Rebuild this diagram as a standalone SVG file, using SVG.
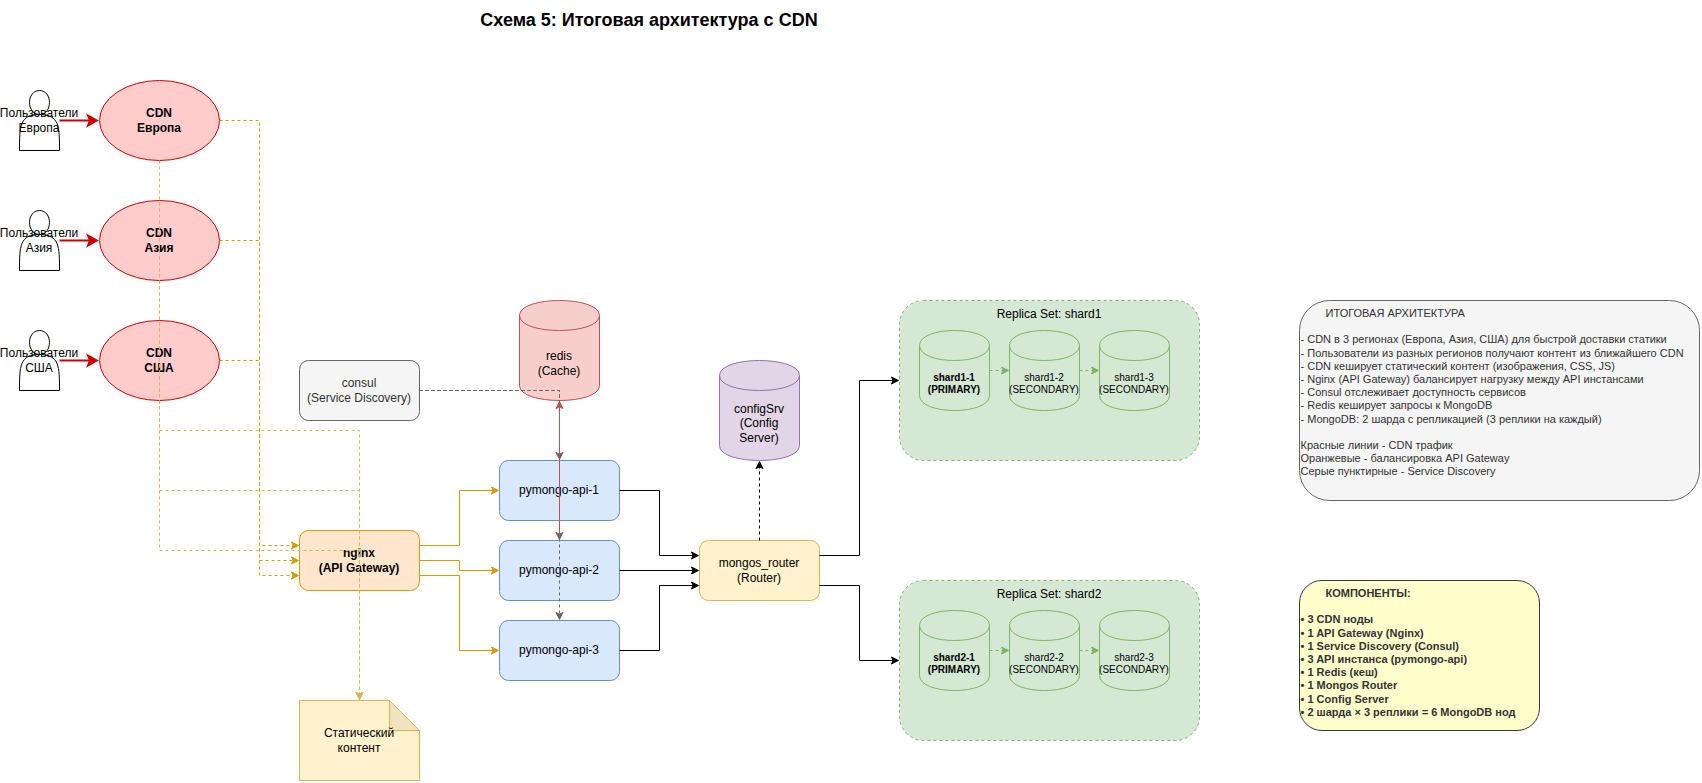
<svg xmlns="http://www.w3.org/2000/svg" width="1702" height="783" viewBox="0 0 1702 783">
<style>
text{font-family:"Liberation Sans",Arial,"DejaVu Sans",sans-serif;font-size:12px;fill:#000;text-anchor:middle}
.b{font-weight:bold}
.s{font-size:10px}
.i{font-size:11px;text-anchor:start;fill:#333}
.t{font-size:18px;font-weight:bold}
.d{fill:#333}
.actor{fill:#fff;stroke:#000}
.cdn{fill:#ffcccc;stroke:#cc0000}
.api{fill:#dae8fc;stroke:#6c8ebf}
.set{fill:#d5e8d4;stroke:#82b366;stroke-dasharray:3 3}
.db{fill:#d5e8d4;stroke:#82b366}
.e{fill:none}
.dash{stroke-dasharray:3 3}
.or{stroke:#d79b00}
.ye{stroke:#d6b656}
.gr{stroke:#666}
.re{stroke:#b85450}
.bk{stroke:#000}
.gn{stroke:#82b366}
.cd{stroke:#cc0000;stroke-width:2}
</style>
<defs>
<path id="head" d="M0,-3.5L7,0L0,3.5L1.75,0Z"/>
<marker id="aor" markerUnits="userSpaceOnUse" markerWidth="12" markerHeight="12" viewBox="-1 -6 10 12" refX="1.75" refY="0" orient="auto"><use href="#head" fill="#d79b00" stroke="#d79b00"/></marker>
<marker id="aye" markerUnits="userSpaceOnUse" markerWidth="12" markerHeight="12" viewBox="-1 -6 10 12" refX="1.75" refY="0" orient="auto"><use href="#head" fill="#d6b656" stroke="#d6b656"/></marker>
<marker id="agr" markerUnits="userSpaceOnUse" markerWidth="12" markerHeight="12" viewBox="-1 -6 10 12" refX="1.75" refY="0" orient="auto"><use href="#head" fill="#666" stroke="#666"/></marker>
<marker id="are" markerUnits="userSpaceOnUse" markerWidth="12" markerHeight="12" viewBox="-1 -6 10 12" refX="1.75" refY="0" orient="auto"><use href="#head" fill="#b85450" stroke="#b85450"/></marker>
<marker id="abk" markerUnits="userSpaceOnUse" markerWidth="12" markerHeight="12" viewBox="-1 -6 10 12" refX="1.75" refY="0" orient="auto"><use href="#head" fill="#000" stroke="#000"/></marker>
<marker id="agn" markerUnits="userSpaceOnUse" markerWidth="12" markerHeight="12" viewBox="-1 -6 10 12" refX="1.75" refY="0" orient="auto"><use href="#head" fill="#82b366" stroke="#82b366"/></marker>
<marker id="acd" markerUnits="userSpaceOnUse" markerWidth="16" markerHeight="16" viewBox="-2 -8 16 16" refX="2" refY="0" orient="auto"><path d="M0,-5L8.8,0L0,5L2,0Z" fill="#cc0000" stroke="#cc0000" stroke-width="2"/></marker>
<path id="actor" d="M0,60C0,36 0,24 20,24C6.67,24 6.67,0 20,0C33.33,0 33.33,24 20,24C40,24 40,36 40,60Z"/>
<g id="cyl80"><path d="M0,15C0,-5 80,-5 80,15L80,85C80,105 0,105 0,85Z"/><path d="M0,15C0,35 80,35 80,15" fill="none"/></g>
<g id="cyl70"><path d="M0,15C0,-5 70,-5 70,15L70,65C70,85 0,85 0,65Z"/><path d="M0,15C0,35 70,35 70,15" fill="none"/></g>
</defs>

<text id="title" class="t" x="649" y="26">Схема 5: Итоговая архитектура с CDN</text>

<g id="user-eu"><use href="#actor" class="actor" x="19.5" y="90.5"/><text x="39" y="117">Пользователи</text><text x="39" y="132">Европа</text></g>
<g id="user-asia"><use href="#actor" class="actor" x="19.5" y="210.5"/><text x="39" y="237">Пользователи</text><text x="39" y="252">Азия</text></g>
<g id="user-us"><use href="#actor" class="actor" x="19.5" y="330.5"/><text x="39" y="357">Пользователи</text><text x="39" y="372">США</text></g>

<g id="cdn-eu"><ellipse class="cdn" cx="159.5" cy="120.5" rx="60" ry="40"/><text class="b" x="159" y="117">CDN</text><text class="b" x="159" y="132">Европа</text></g>
<g id="cdn-asia"><ellipse class="cdn" cx="159.5" cy="240.5" rx="60" ry="40"/><text class="b" x="159" y="237">CDN</text><text class="b" x="159" y="252">Азия</text></g>
<g id="cdn-us"><ellipse class="cdn" cx="159.5" cy="360.5" rx="60" ry="40"/><text class="b" x="159" y="357">CDN</text><text class="b" x="159" y="372">США</text></g>

<g id="consul"><rect x="299.5" y="360.5" width="120" height="60" rx="9" fill="#f5f5f5" stroke="#666"/><text class="d" x="359" y="387">consul</text><text class="d" x="359" y="402">(Service Discovery)</text></g>

<g id="nginx"><rect x="299.5" y="530.5" width="120" height="60" rx="9" fill="#ffe6cc" stroke="#d79b00"/><text class="b" x="359" y="557">nginx</text><text class="b" x="359" y="572">(API Gateway)</text></g>

<g id="static"><path d="M299.5,700.5H389.5L419.5,730.5V780.5H299.5Z" fill="#fff2cc" stroke="#d6b656"/><path d="M389.5,700.5V730.5H419.5Z" fill="#f0e4c0" stroke="#d6b656"/><text x="359" y="737">Статический</text><text x="359" y="752">контент</text></g>

<g id="redis"><use href="#cyl80" x="519.5" y="300.5" fill="#f8cecc" stroke="#b85450"/><text x="559" y="360">redis</text><text x="559" y="375">(Cache)</text></g>

<g id="api-1"><rect class="api" x="499.5" y="460.5" width="120" height="60" rx="9"/><text x="559" y="494">pymongo-api-1</text></g>
<g id="api-2"><rect class="api" x="499.5" y="540.5" width="120" height="60" rx="9"/><text x="559" y="574">pymongo-api-2</text></g>
<g id="api-3"><rect class="api" x="499.5" y="620.5" width="120" height="60" rx="9"/><text x="559" y="654">pymongo-api-3</text></g>

<g id="mongos"><rect x="699.5" y="540.5" width="120" height="60" rx="9" fill="#fff2cc" stroke="#d6b656"/><text x="759" y="567">mongos_router</text><text x="759" y="582">(Router)</text></g>

<g id="configsrv"><use href="#cyl80" x="719.5" y="360.5" fill="#e1d5e7" stroke="#9673a6"/><text x="759" y="413">configSrv</text><text x="759" y="427">(Config</text><text x="759" y="442">Server)</text></g>

<g id="rs1"><rect class="set" x="899.5" y="300.5" width="300" height="160" rx="24"/><text x="1049" y="318">Replica Set: shard1</text></g>
<g id="shard1-1"><use href="#cyl70" class="db" x="919.5" y="330.5"/><text class="s b" x="954" y="381">shard1-1</text><text class="s b" x="954" y="393">(PRIMARY)</text></g>
<g id="shard1-2"><use href="#cyl70" class="db" x="1009.5" y="330.5"/><text class="s" x="1044" y="381">shard1-2</text><text class="s" x="1044" y="393">(SECONDARY)</text></g>
<g id="shard1-3"><use href="#cyl70" class="db" x="1099.5" y="330.5"/><text class="s" x="1134" y="381">shard1-3</text><text class="s" x="1134" y="393">(SECONDARY)</text></g>

<g id="rs2"><rect class="set" x="899.5" y="580.5" width="300" height="160" rx="24"/><text x="1049" y="598">Replica Set: shard2</text></g>
<g id="shard2-1"><use href="#cyl70" class="db" x="919.5" y="610.5"/><text class="s b" x="954" y="661">shard2-1</text><text class="s b" x="954" y="673">(PRIMARY)</text></g>
<g id="shard2-2"><use href="#cyl70" class="db" x="1009.5" y="610.5"/><text class="s" x="1044" y="661">shard2-2</text><text class="s" x="1044" y="673">(SECONDARY)</text></g>
<g id="shard2-3"><use href="#cyl70" class="db" x="1099.5" y="610.5"/><text class="s" x="1134" y="661">shard2-3</text><text class="s" x="1134" y="673">(SECONDARY)</text></g>

<g id="info"><rect x="1299.5" y="300.5" width="400" height="200" rx="30" fill="#f5f5f5" stroke="#666"/>
<text class="i" x="1325.5" y="317">ИТОГОВАЯ АРХИТЕКТУРА</text>
<text class="i" x="1300.5" y="343">- CDN в 3 регионах (Европа, Азия, США) для быстрой доставки статики</text>
<text class="i" x="1300.5" y="357">- Пользователи из разных регионов получают контент из ближайшего CDN</text>
<text class="i" x="1300.5" y="370">- CDN кеширует статический контент (изображения, CSS, JS)</text>
<text class="i" x="1300.5" y="383">- Nginx (API Gateway) балансирует нагрузку между API инстансами</text>
<text class="i" x="1300.5" y="396">- Consul отслеживает доступность сервисов</text>
<text class="i" x="1300.5" y="409">- Redis кеширует запросы к MongoDB</text>
<text class="i" x="1300.5" y="423">- MongoDB: 2 шарда с репликацией (3 реплики на каждый)</text>
<text class="i" x="1300.5" y="449">Красные линии - CDN трафик</text>
<text class="i" x="1300.5" y="462">Оранжевые - балансировка API Gateway</text>
<text class="i" x="1300.5" y="475">Серые пунктирные - Service Discovery</text>
</g>

<g id="components"><rect x="1299.5" y="580.5" width="240" height="150" rx="22.5" fill="#ffffcc" stroke="#36393d"/>
<text class="i b" x="1325.5" y="597">КОМПОНЕНТЫ:</text>
<text class="i b" x="1300.5" y="623">• 3 CDN ноды</text>
<text class="i b" x="1300.5" y="637">• 1 API Gateway (Nginx)</text>
<text class="i b" x="1300.5" y="650">• 1 Service Discovery (Consul)</text>
<text class="i b" x="1300.5" y="663">• 3 API инстанса (pymongo-api)</text>
<text class="i b" x="1300.5" y="676">• 1 Redis (кеш)</text>
<text class="i b" x="1300.5" y="689">• 1 Mongos Router</text>
<text class="i b" x="1300.5" y="703">• 1 Config Server</text>
<text class="i b" x="1300.5" y="716">• 2 шарда × 3 реплики = 6 MongoDB нод</text>
</g>

<g id="connectors" class="e">
<path class="cd" marker-end="url(#acd)" d="M59.5,120.5H90"/>
<path class="cd" marker-end="url(#acd)" d="M59.5,240.5H90"/>
<path class="cd" marker-end="url(#acd)" d="M59.5,360.5H90"/>

<path class="or dash" marker-end="url(#aor)" d="M219.5,120.5H259.5V545.5H293.2"/>
<path class="or dash" marker-end="url(#aor)" d="M219.5,240.5H259.5V560.5H293.2"/>
<path class="or dash" marker-end="url(#aor)" d="M219.5,360.5H259.5V575.5H293.2"/>

<path class="ye dash" marker-end="url(#aye)" d="M159.5,160.5V430.5H359.5V694.2"/>
<path class="ye dash" marker-end="url(#aye)" d="M159.5,280.5V490.5H359.5V694.2"/>
<path class="ye dash" marker-end="url(#aye)" d="M159.5,400.5V550.5H359.5V694.2"/>

<path class="or" marker-end="url(#aor)" d="M419.5,545.5H459.5V490.5H493.2"/>
<path class="or" marker-end="url(#aor)" d="M419.5,560.5H459.5V570.5H493.2"/>
<path class="or" marker-end="url(#aor)" d="M419.5,575.5H459.5V650.5H493.2"/>

<path class="gr dash" marker-end="url(#agr)" d="M419.5,390.5H559.5V454.2"/>
<path class="gr dash" marker-end="url(#agr)" d="M419.5,390.5H559.5V534.2"/>
<path class="gr dash" marker-end="url(#agr)" d="M419.5,390.5H559.5V614.2"/>

<path class="re" marker-end="url(#are)" d="M559.5,536V406.8"/>

<path class="bk" marker-end="url(#abk)" d="M619.5,490.5H659.5V555.5H693.2"/>
<path class="bk" marker-end="url(#abk)" d="M619.5,570.5H693.2"/>
<path class="bk" marker-end="url(#abk)" d="M619.5,650.5H659.5V585.5H693.2"/>
<path class="bk dash" marker-end="url(#abk)" d="M759.5,540.5V466.8"/>
<path class="bk" marker-end="url(#abk)" d="M819.5,555.5H859.5V380.5H893.2"/>
<path class="bk" marker-end="url(#abk)" d="M819.5,585.5H859.5V660.5H893.2"/>

<path class="gn dash" marker-end="url(#agn)" d="M989.5,370.5H1003.2"/>
<path class="gn dash" marker-end="url(#agn)" d="M1079.5,370.5H1093.2"/>
<path class="gn dash" marker-end="url(#agn)" d="M989.5,650.5H1003.2"/>
<path class="gn dash" marker-end="url(#agn)" d="M1079.5,650.5H1093.2"/>
</g>
</svg>
